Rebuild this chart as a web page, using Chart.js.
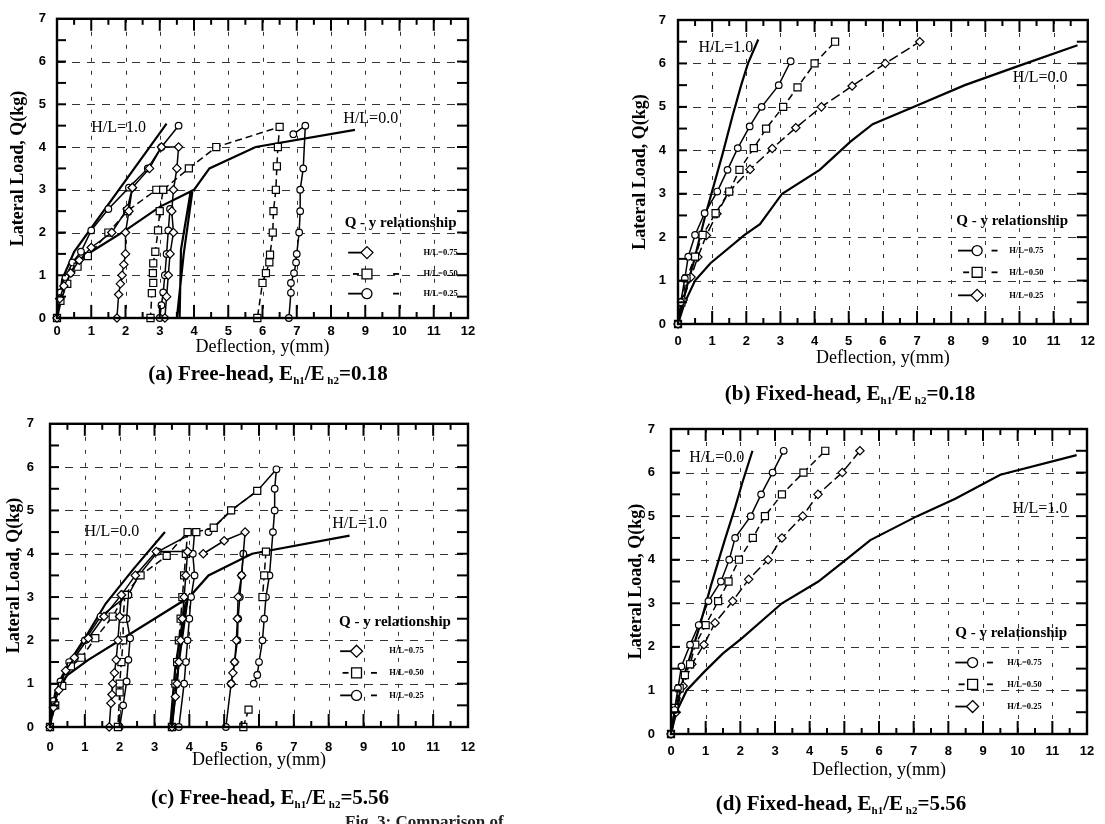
<!DOCTYPE html>
<html><head><meta charset="utf-8">
<script src="https://cdn.jsdelivr.net/npm/chart.js@4.4.0/dist/chart.umd.min.js"></script>
<style>
html,body{margin:0;padding:0;background:#fff;width:1105px;height:824px;overflow:hidden;position:relative;}
canvas{position:absolute;}
.cap{position:absolute;font-family:"Liberation Serif",serif;font-weight:bold;font-size:21px;white-space:nowrap;transform:translate(-50%,-50%);color:#000;line-height:24px;}
.cap sub{font-size:11px;vertical-align:-4px;line-height:0;}
.fig{position:absolute;font-family:"Liberation Serif",serif;font-weight:bold;font-size:17px;white-space:nowrap;color:#222;line-height:18px;}
</style></head><body>
<canvas id="ca"></canvas>
<canvas id="cb"></canvas>
<canvas id="cc"></canvas>
<canvas id="cd"></canvas>
<div class="cap" style="left:268px;top:373px;">(a) Free-head, E<sub>h1</sub>/E<sub>&nbsp;h2</sub>=0.18</div>
<div class="cap" style="left:850px;top:393px;">(b) Fixed-head, E<sub>h1</sub>/E<sub>&nbsp;h2</sub>=0.18</div>
<div class="cap" style="left:270px;top:797px;">(c) Free-head, E<sub>h1</sub>/E<sub>&nbsp;h2</sub>=5.56</div>
<div class="cap" style="left:841px;top:803px;">(d) Fixed-head, E<sub>h1</sub>/E<sub>&nbsp;h2</sub>=5.56</div>
<div class="fig" style="left:345px;top:813px;">Fig. 3: Comparison of</div>
<script>
// ---------- axes ----------
const X_TICKS = [0,1,2,3,4,5,6,7,8,9,10,11,12];
const Y_TICKS = [0,1,2,3,4,5,6,7];
const GRID_X = [1,2,3,4,5,6,7,8,9,10,11];
const GRID_Y = [1,2,3,4,5,6];
const LEGEND_LABELS = ["H/L=0.75","H/L=0.50","H/L=0.25"];

// ---------- (a) Free-head, Eh1/Eh2 = 0.18 ----------
const A_HL10_X = [0, 0.15, 0.5, 3.2];
const A_HL10_Y = [0, 0.9, 1.55, 4.55];
const A_HL00_X = [0, 0.25, 0.6, 1.0, 2.0, 3.0, 4.0, 4.45, 5.8, 8.7, null, 3.95, 3.7, 3.5, null, 3.9, 3.62, 3.58];
const A_HL00_Y = [0, 0.9, 1.3, 1.55, 2.05, 2.6, 3.0, 3.5, 4.0, 4.4, null, 2.95, 1.5, 0, null, 2.95, 1.6, 0];
const A_075_X = [0, 0.08, 0.2, 0.4, 0.65, 1.0, 1.6, 2.05, 2.2, 2.1, 2.0, 2.0, 1.95, 1.9, 1.85, 1.8, 1.75, null, 2.2, 2.7, 3.05, 3.55, 3.5, 3.4, 3.35, 3.4, 3.3, 3.25, 3.2, 3.15];
const A_075_Y = [0, 0.45, 0.75, 1.05, 1.35, 1.65, 2.0, 2.55, 3.05, 2.5, 2.0, 1.5, 1.25, 1.0, 0.8, 0.55, 0, null, 3.05, 3.5, 4.0, 4.0, 3.5, 3.0, 2.5, 2.0, 1.5, 1.0, 0.5, 0];
const A_050_X = [0, 0.1, 0.3, 0.6, 0.9, 1.5, 2.05, 2.9, 3.1, 3.0, 2.95, 2.87, 2.81, 2.8, 2.81, 2.77, 2.73, null, 3.1, 3.85, 4.65, 6.5, 6.45, 6.42, 6.39, 6.32, 6.3, 6.22, 6.2, 6.1, 6.0, 5.85];
const A_050_Y = [0, 0.4, 0.8, 1.2, 1.45, 2.0, 2.5, 3.0, 3.0, 2.5, 2.05, 1.55, 1.28, 1.05, 0.82, 0.58, 0, null, 3.0, 3.5, 4.0, 4.47, 4.0, 3.55, 3.0, 2.5, 2.0, 1.48, 1.3, 1.05, 0.82, 0];
const A_025_X = [0, 0.1, 0.25, 0.45, 0.7, 1.0, 1.5, 2.1, 2.65, 3.05, 3.55, null, 3.3, 3.25, 3.2, 3.15, 3.1, 3.05, 3.0, null, 6.9, 7.25, 7.19, 7.1, 7.1, 7.07, 7.0, 6.98, 6.92, 6.83, 6.83, 6.77];
const A_025_Y = [0, 0.6, 0.95, 1.3, 1.55, 2.05, 2.55, 3.05, 3.5, 4.0, 4.5, null, 2.55, 2.05, 1.5, 1.0, 0.6, 0.3, 0, null, 4.3, 4.5, 3.5, 3.0, 2.5, 2.0, 1.5, 1.3, 1.05, 0.82, 0.59, 0];

// ---------- (b) Fixed-head, Eh1/Eh2 = 0.18 ----------
const B_HL10_X = [0, 0.2, 0.45, 0.8, 1.3, 1.6, 1.85, 2.05, 2.35];
const B_HL10_Y = [0, 0.7, 1.4, 2.5, 3.9, 4.8, 5.5, 6.0, 6.55];
const B_HL00_X = [0, 0.2, 0.5, 0.95, 1.95, 2.4, 3.05, 4.15, 5.05, 5.7, 7.05, 8.4, 10.0, 11.7];
const B_HL00_Y = [0, 0.5, 1.0, 1.4, 2.05, 2.3, 3.0, 3.55, 4.2, 4.6, 5.05, 5.5, 5.95, 6.42];
const B_075_X = [0, 0.08, 0.2, 0.3, 0.5, 0.78, 1.15, 1.45, 1.75, 2.1, 2.45, 2.95, 3.3];
const B_075_Y = [0, 0.5, 1.05, 1.55, 2.05, 2.55, 3.05, 3.55, 4.05, 4.55, 5.0, 5.5, 6.05];
const B_050_X = [0, 0.1, 0.25, 0.5, 0.72, 1.1, 1.5, 1.8, 2.22, 2.58, 3.08, 3.5, 4.0, 4.6];
const B_050_Y = [0, 0.5, 1.05, 1.55, 2.05, 2.55, 3.05, 3.55, 4.05, 4.5, 5.0, 5.45, 6.0, 6.5];
const B_025_X = [0, 0.15, 0.38, 0.58, 0.83, 1.14, 1.49, 2.11, 2.76, 3.45, 4.2, 5.1, 6.07, 7.08];
const B_025_Y = [0, 0.55, 1.08, 1.54, 2.04, 2.54, 3.04, 3.56, 4.04, 4.52, 5.0, 5.48, 6.0, 6.5];

// ---------- (c) Free-head, Eh1/Eh2 = 5.56 ----------
const C_HL00_X = [0, 0.1, 0.3, 0.6, 1.0, 1.6, 2.4, 3.3];
const C_HL00_Y = [0, 0.6, 1.1, 1.55, 2.05, 2.85, 3.65, 4.5];
const C_HL10_X = [0, 0.15, 0.5, 1.1, 2.1, 3.0, 4.0, 4.55, 5.8, 8.6, null, 3.95, 3.7, 3.5, null, 3.9, 3.6, 3.45];
const C_HL10_Y = [0, 0.8, 1.2, 1.55, 2.05, 2.5, 3.0, 3.5, 4.0, 4.42, null, 2.95, 1.5, 0, null, 2.9, 1.4, 0];
const C_075_X = [0, 0.1, 0.25, 0.45, 0.7, 1.1, 1.55, 2.05, 2.0, 1.95, 1.9, 1.85, 1.8, 1.78, 1.75, 1.7, null, 2.05, 2.45, 3.05, 3.95, 3.9, 3.85, 3.8, 3.75, 3.7, 3.65, 3.6, 3.5, null, 4.4, 5.0, 5.6, 5.5, 5.4, 5.38, 5.35, 5.3, 5.25, 5.2];
const C_075_Y = [0, 0.45, 0.85, 1.3, 1.6, 2.05, 2.55, 3.05, 2.55, 2.0, 1.55, 1.25, 1.0, 0.75, 0.55, 0, null, 3.05, 3.5, 4.05, 4.05, 3.5, 3.0, 2.5, 2.0, 1.5, 1.0, 0.7, 0, null, 4.0, 4.3, 4.5, 3.5, 3.0, 2.5, 2.0, 1.5, 1.25, 1.0];
const C_050_X = [0, 0.15, 0.35, 0.6, 0.9, 1.3, 1.8, 2.15, 2.1, 2.1, 2.05, 2.0, 2.0, 1.95, null, 2.15, 2.6, 3.35, 3.95, 3.9, 3.85, 3.8, 3.75, 3.7, 3.65, 3.6, 3.5, null, 4.2, 4.7, 5.2, 5.95, null, 6.2, 6.15, 6.1, null, 5.55, 5.7];
const C_050_Y = [0, 0.5, 0.95, 1.4, 1.6, 2.05, 2.55, 3.05, 2.5, 2.0, 1.5, 1.0, 0.8, 0, null, 3.05, 3.5, 3.95, 4.5, 4.0, 3.5, 3.0, 2.5, 2.0, 1.5, 1.0, 0, null, 4.5, 4.6, 5.0, 5.45, null, 4.05, 3.5, 3.0, null, 0, 0.4];
const C_025_X = [0, 0.1, 0.3, 0.55, 1.0, 1.45, 2.25, 2.2, 2.3, 2.25, 2.2, 2.1, 2.0, null, 2.25, 2.55, 3.1, 4.15, 4.1, 4.15, 4.05, 4.0, 3.95, 3.9, 3.85, 3.7, null, 4.55, 5.2, 5.95, 6.5, 6.45, 6.45, 6.4, 6.3, 6.2, 6.15, 6.1, 6.0, 5.95, 5.85, null, 5.55, 5.5, 5.45, 5.4, 5.38, 5.3, 5.2, 5.05];
const C_025_Y = [0, 0.6, 1.05, 1.5, 2.0, 2.55, 3.05, 2.5, 2.05, 1.55, 1.05, 0.5, 0, null, 3.05, 3.5, 4.05, 4.5, 4.0, 3.5, 3.0, 2.5, 2.0, 1.5, 1.0, 0, null, 4.5, 5.0, 5.45, 5.95, 5.5, 5.0, 4.5, 3.5, 3.0, 2.5, 2.0, 1.5, 1.2, 1.0, null, 4.0, 3.5, 3.0, 2.5, 2.0, 1.5, 1.0, 0];

// ---------- (d) Fixed-head, Eh1/Eh2 = 5.56 ----------
const D_HL00_X = [0, 0.15, 0.4, 0.8, 1.15, 1.55, 1.85, 2.05, 2.35];
const D_HL00_Y = [0, 0.6, 1.4, 2.4, 3.4, 4.45, 5.2, 5.75, 6.5];
const D_HL10_X = [0, 0.15, 0.45, 0.95, 1.5, 2.05, 3.2, 4.25, 5.05, 5.75, 7.1, 8.2, 9.5, 11.7];
const D_HL10_Y = [0, 0.5, 1.0, 1.42, 1.85, 2.2, 3.0, 3.5, 4.0, 4.45, 5.0, 5.4, 5.95, 6.4];
const D_075_X = [0, 0.1, 0.2, 0.3, 0.55, 0.8, 1.08, 1.44, 1.68, 1.85, 2.3, 2.6, 2.93, 3.25];
const D_075_Y = [0, 0.55, 1.05, 1.55, 2.05, 2.5, 3.05, 3.5, 4.0, 4.5, 5.0, 5.5, 6.0, 6.5];
const D_050_X = [0, 0.1, 0.25, 0.4, 0.55, 0.7, 1.0, 1.36, 1.66, 1.96, 2.36, 2.71, 3.2, 3.82, 4.45];
const D_050_Y = [0, 0.6, 1.05, 1.35, 1.6, 2.05, 2.5, 3.05, 3.5, 4.0, 4.5, 5.0, 5.5, 6.0, 6.5];
const D_025_X = [0, 0.15, 0.35, 0.6, 0.95, 1.27, 1.78, 2.24, 2.8, 3.2, 3.8, 4.24, 4.94, 5.45];
const D_025_Y = [0, 0.5, 1.1, 1.6, 2.05, 2.55, 3.05, 3.55, 4.0, 4.5, 5.0, 5.5, 6.0, 6.5];

// ---------- drawing helpers ----------
function marker(ctx, style, x, y, r) {
  ctx.beginPath();
  if (style === 'circle') ctx.arc(x, y, r, 0, Math.PI * 2);
  else if (style === 'rect') { const s = r * Math.SQRT1_2; ctx.rect(x - s, y - s, 2 * s, 2 * s); }
  else { ctx.moveTo(x, y - r); ctx.lineTo(x + r, y); ctx.lineTo(x, y + r); ctx.lineTo(x - r, y); ctx.closePath(); }
  ctx.fillStyle = '#fff'; ctx.fill();
  ctx.lineWidth = 1.3; ctx.strokeStyle = '#000'; ctx.setLineDash([]); ctx.stroke();
}
function seg(ctx, x1, y1, x2, y2) { ctx.beginPath(); ctx.moveTo(x1, y1); ctx.lineTo(x2, y2); ctx.stroke(); }

const framePlugin = {
  id: 'frame',
  beforeDatasetsDraw(chart) {
    const { ctx, chartArea: ca, scales: { x, y } } = chart;
    ctx.save();
    ctx.strokeStyle = '#333'; ctx.lineWidth = 1;
    ctx.setLineDash([4, 9]);
    GRID_X.forEach(v => { const px = Math.round(x.getPixelForValue(v)) + 0.5; seg(ctx, px, ca.top, px, ca.bottom); });
    ctx.setLineDash([8, 7]);
    GRID_Y.forEach(v => { const py = Math.round(y.getPixelForValue(v)) + 0.5; seg(ctx, ca.left, py, ca.right, py); });
    ctx.restore();
  },
  afterDatasetsDraw(chart, args, o) {
    const { ctx, chartArea: ca, scales: { x, y } } = chart;
    ctx.save();
    ctx.strokeStyle = '#000'; ctx.setLineDash([]);
    ctx.lineWidth = 2;
    for (let v = 0.5; v < 12; v += 0.5) {
      const px = x.getPixelForValue(v), big = Number.isInteger(v);
      seg(ctx, px, ca.bottom, px, ca.bottom - (big ? 13 : 6));
      seg(ctx, px, ca.top, px, ca.top + (big ? 12 : 6));
    }
    for (let v = 0.5; v < 7; v += 0.5) {
      const py = y.getPixelForValue(v);
      seg(ctx, ca.left, py, ca.left + 9, py);
      seg(ctx, ca.right, py, ca.right - 11, py);
    }
    ctx.lineWidth = 2.4;
    ctx.strokeRect(ca.left, ca.top, ca.right - ca.left, ca.bottom - ca.top);
    ctx.fillStyle = '#000';
    ctx.font = '16px "Liberation Serif"';
    ctx.textBaseline = 'middle'; ctx.textAlign = 'left';
    o.notes.forEach(n => ctx.fillText(n.text, x.getPixelForValue(n.x), y.getPixelForValue(n.y)));
    const L = o.legend;
    ctx.font = 'bold 15px "Liberation Serif"';
    ctx.fillText('Q - y relationship', x.getPixelForValue(L.titleX), y.getPixelForValue(L.titleY));
    L.order.forEach((di, k) => {
      const ds = chart.data.datasets[di];
      const py = y.getPixelForValue(L.rows[k]);
      const x0 = x.getPixelForValue(L.lineX), xm = x.getPixelForValue(L.markX);
      ctx.strokeStyle = '#000'; ctx.lineWidth = 1.8;
      if (ds.legendDashed) { seg(ctx, xm - 14, py, xm - 8, py); }
      else { seg(ctx, x0, py, xm, py); }
      marker(ctx, ds.pointStyle, xm, py, ds.pointStyle === 'circle' ? 5 : (ds.pointStyle === 'rect' ? 7 : 6));
      if (ds.legendTrail) { ctx.lineWidth = 1.8; seg(ctx, x.getPixelForValue(L.dashX) - 3, py, x.getPixelForValue(L.dashX) + 3, py); }
      ctx.fillStyle = '#000';
      ctx.font = 'bold 8.5px "Liberation Serif"';
      ctx.fillText(LEGEND_LABELS[k], x.getPixelForValue(L.textX), py);
    });
    ctx.restore();
  }
};

function series(xs, ys, opt) {
  return Object.assign({
    data: xs.map((v, i) => ({ x: v, y: ys[i] })),
    showLine: true, borderColor: '#000', backgroundColor: '#fff',
    borderWidth: 1.5, borderDash: [], pointRadius: 0, pointStyle: 'circle',
    pointBorderWidth: 1.2, pointBackgroundColor: '#fff', pointBorderColor: '#000',
    tension: 0, spanGaps: false, clip: false
  }, opt);
}
const CURVE = { borderWidth: 2.2, pointRadius: 0 };
const DIAM = { pointStyle: 'rectRot', pointRadius: 4.2 };
const SQR = { pointStyle: 'rect', pointRadius: 5 };
const CIRC = { pointStyle: 'circle', pointRadius: 3.3 };

function build(p) {
  const cv = document.getElementById(p.id);
  cv.width = p.cw; cv.height = p.ch;
  cv.style.left = p.cx + 'px'; cv.style.top = p.cy + 'px';
  const yW = p.L - p.cx;
  const xH = p.xTitleY + 10.8 - p.B;
  const pad = { left: 0, top: p.T - p.cy, right: p.cx + p.cw - p.R, bottom: p.cy + p.ch - p.B - xH };
  const tickFont = { family: 'Liberation Sans', weight: 'bold', size: 13 };
  new Chart(cv, {
    type: 'scatter',
    data: { datasets: p.datasets },
    options: {
      responsive: false, animation: false, devicePixelRatio: 1, events: [],
      layout: { padding: pad },
      plugins: { legend: { display: false }, tooltip: { enabled: false }, frame: { notes: p.notes, legend: p.legend } },
      scales: {
        x: {
          type: 'linear', position: 'bottom', min: 0, max: 12,
          afterBuildTicks: s => { s.ticks = X_TICKS.map(v => ({ value: v })); },
          afterFit: s => { s.height = xH; },
          grid: { display: false, drawTicks: false }, border: { display: false },
          ticks: { color: '#000', font: tickFont, padding: p.xTickPad, autoSkip: false, maxRotation: 0 },
          title: { display: true, text: 'Deflection, y(mm)', color: '#000', font: { family: 'Liberation Serif', size: 18 }, padding: { top: 0, bottom: 0 } }
        },
        y: {
          type: 'linear', position: 'left', min: 0, max: 7,
          afterBuildTicks: s => { s.ticks = Y_TICKS.map(v => ({ value: v })); },
          afterFit: s => { s.width = yW; },
          grid: { display: false, drawTicks: false }, border: { display: false },
          ticks: { color: '#000', font: tickFont, padding: p.yTickPad, autoSkip: false },
          title: { display: true, text: 'Lateral Load, Q(kg)', color: '#000', font: { family: 'Liberation Serif', size: 18, weight: 'bold' }, padding: { top: p.yTitleX - p.cx - 10.8, bottom: 0 } }
        }
      }
    },
    plugins: [framePlugin]
  });
}

// (a)
build({
  id: 'ca', cx: 0, cy: 0, cw: 552, ch: 400,
  L: 57, R: 468, T: 12, B: 318, xTitleY: 347, yTitleX: 18, xTickPad: 6, yTickPad: 11,
  datasets: [
    series(A_075_X, A_075_Y, Object.assign({ legendTrail: false }, DIAM)),
    series(A_050_X, A_050_Y, Object.assign({ borderDash: [7, 4], legendDashed: true, legendTrail: true }, SQR)),
    series(A_025_X, A_025_Y, Object.assign({ legendTrail: true }, CIRC)),
    series(A_HL10_X, A_HL10_Y, CURVE),
    series(A_HL00_X, A_HL00_Y, CURVE)
  ],
  notes: [{ text: 'H/L=1.0', x: 1.0, y: 4.45 }, { text: 'H/L=0.0', x: 8.36, y: 4.65 }],
  legend: { titleX: 8.4, titleY: 2.22, rows: [1.53, 1.03, 0.57], order: [0, 1, 2], lineX: 8.5, markX: 9.05, dashX: 9.9, textX: 10.7 }
});
// (b)
build({
  id: 'cb', cx: 552, cy: 0, cw: 553, ch: 405,
  L: 678, R: 1094, T: 20, B: 324, xTitleY: 358, yTitleX: 640, xTickPad: 10, yTickPad: 12,
  datasets: [
    series(B_075_X, B_075_Y, Object.assign({ legendTrail: true }, CIRC)),
    series(B_050_X, B_050_Y, Object.assign({ borderDash: [7, 4], legendDashed: true, legendTrail: true }, SQR)),
    series(B_025_X, B_025_Y, Object.assign({ borderDash: [10, 4], legendTrail: false }, DIAM)),
    series(B_HL10_X, B_HL10_Y, CURVE),
    series(B_HL00_X, B_HL00_Y, CURVE)
  ],
  notes: [{ text: 'H/L=1.0', x: 0.6, y: 6.36 }, { text: 'H/L=0.0', x: 9.8, y: 5.66 }],
  legend: { titleX: 8.15, titleY: 2.38, rows: [1.69, 1.19, 0.66], order: [0, 1, 2], lineX: 8.2, markX: 8.76, dashX: 9.27, textX: 9.7 }
});
// (c)
build({
  id: 'cc', cx: 0, cy: 400, cw: 552, ch: 424,
  L: 50, R: 468, T: 420, B: 727, xTitleY: 760, yTitleX: 14, xTickPad: 13, yTickPad: 16,
  datasets: [
    series(C_075_X, C_075_Y, Object.assign({ legendTrail: false }, DIAM)),
    series(C_050_X, C_050_Y, Object.assign({ borderDash: [7, 4], legendDashed: true, legendTrail: true }, SQR)),
    series(C_025_X, C_025_Y, Object.assign({ legendTrail: true }, CIRC)),
    series(C_HL00_X, C_HL00_Y, CURVE),
    series(C_HL10_X, C_HL10_Y, CURVE)
  ],
  notes: [{ text: 'H/L=0.0', x: 0.99, y: 4.5 }, { text: 'H/L=1.0', x: 8.1, y: 4.7 }],
  legend: { titleX: 8.3, titleY: 2.42, rows: [1.75, 1.25, 0.73], order: [0, 1, 2], lineX: 8.33, markX: 8.8, dashX: 9.3, textX: 9.74 }
});
// (d)
build({
  id: 'cd', cx: 552, cy: 405, cw: 553, ch: 419,
  L: 671, R: 1087, T: 429, B: 734, xTitleY: 770, yTitleX: 636, xTickPad: 10, yTickPad: 16,
  datasets: [
    series(D_075_X, D_075_Y, Object.assign({ legendTrail: true }, CIRC)),
    series(D_050_X, D_050_Y, Object.assign({ borderDash: [7, 4], legendDashed: true, legendTrail: true }, SQR)),
    series(D_025_X, D_025_Y, Object.assign({ borderDash: [10, 4], legendTrail: false }, DIAM)),
    series(D_HL00_X, D_HL00_Y, CURVE),
    series(D_HL10_X, D_HL10_Y, CURVE)
  ],
  notes: [{ text: 'H/L=0.0', x: 0.53, y: 6.35 }, { text: 'H/L=1.0', x: 9.85, y: 5.17 }],
  legend: { titleX: 8.2, titleY: 2.32, rows: [1.64, 1.14, 0.63], order: [0, 1, 2], lineX: 8.2, markX: 8.7, dashX: 9.2, textX: 9.7 }
});
</script>
</body></html>
